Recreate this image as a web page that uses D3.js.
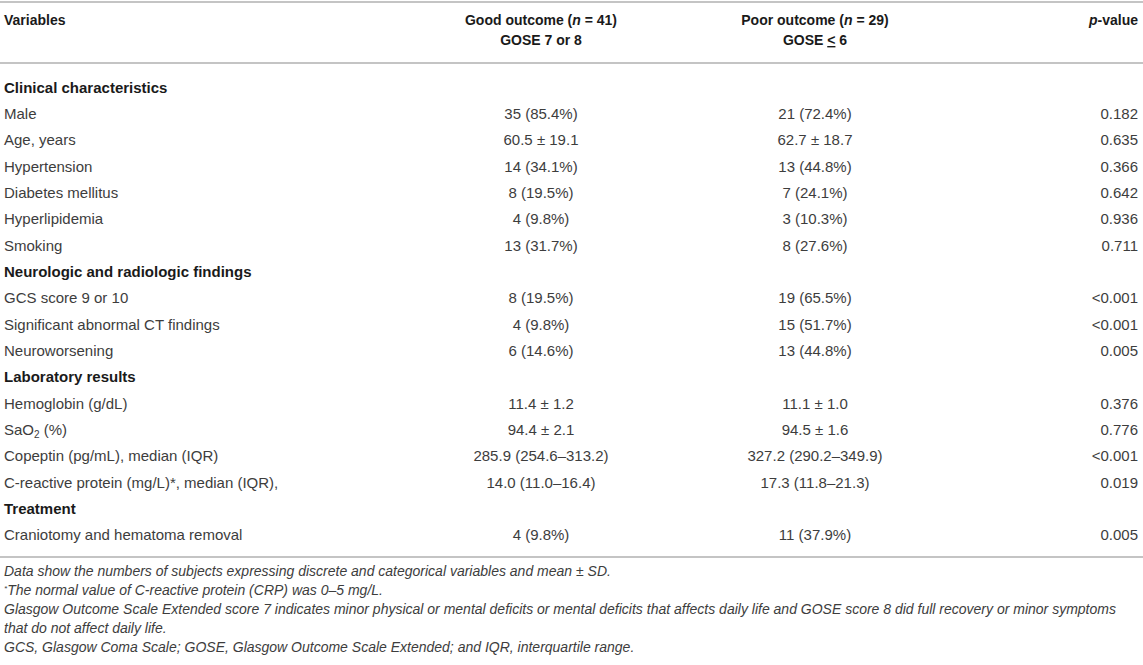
<!DOCTYPE html>
<html>
<head>
<meta charset="utf-8">
<script src="https://cdn.jsdelivr.net/npm/d3@7"></script>
<style>
  body { margin: 0; background: #fff; }
  text { font-family: "Liberation Sans", Arial, Helvetica, sans-serif; }
</style>
</head>
<body>
<div id="chart"></div>
<script>
// table contents
const sections = ["Clinical characteristics", "Neurologic and radiologic findings",
                  "Laboratory results", "Treatment"];
const variables = [
  ["Male", "Age, years", "Hypertension", "Diabetes mellitus", "Hyperlipidemia", "Smoking"],
  ["GCS score 9 or 10", "Significant abnormal CT findings", "Neuroworsening"],
  ["Hemoglobin (g/dL)", "SaO2 (%)", "Copeptin (pg/mL), median (IQR)",
   "C-reactive protein (mg/L)*, median (IQR),"],
  ["Craniotomy and hematoma removal"]
];
const goodValues = [
  ["35 (85.4%)", "60.5 ± 19.1", "14 (34.1%)", "8 (19.5%)", "4 (9.8%)", "13 (31.7%)"],
  ["8 (19.5%)", "4 (9.8%)", "6 (14.6%)"],
  ["11.4 ± 1.2", "94.4 ± 2.1", "285.9 (254.6–313.2)", "14.0 (11.0–16.4)"],
  ["4 (9.8%)"]
];
const poorValues = [
  ["21 (72.4%)", "62.7 ± 18.7", "13 (44.8%)", "7 (24.1%)", "3 (10.3%)", "8 (27.6%)"],
  ["19 (65.5%)", "15 (51.7%)", "13 (44.8%)"],
  ["11.1 ± 1.0", "94.5 ± 1.6", "327.2 (290.2–349.9)", "17.3 (11.8–21.3)"],
  ["11 (37.9%)"]
];
const pValues = [
  ["0.182", "0.635", "0.366", "0.642", "0.936", "0.711"],
  ["<0.001", "<0.001", "0.005"],
  ["0.376", "0.776", "<0.001", "0.019"],
  ["0.005"]
];
const footnotes = [
  "Data show the numbers of subjects expressing discrete and categorical variables and mean ± SD.",
  "*The normal value of C-reactive protein (CRP) was 0–5 mg/L.",
  "Glasgow Outcome Scale Extended score 7 indicates minor physical or mental deficits or mental deficits that affects daily life and GOSE score 8 did full recovery or minor symptoms",
  "that do not affect daily life.",
  "GCS, Glasgow Coma Scale; GOSE, Glasgow Outcome Scale Extended; and IQR, interquartile range."
];

const W = 1143, H = 665;
const textColor = "#3d3d3d", headColor = "#1a1a1a", ruleColor = "#c4c4c4";

// flatten sections + variables into table rows
const rows = [];
sections.forEach((s, i) => {
  rows.push({ type: "section", label: s });
  variables[i].forEach((v, j) => rows.push({
    type: "row", label: v, good: goodValues[i][j], poor: poorValues[i][j], p: pValues[i][j]
  }));
});

const svg = d3.select("#chart").append("svg")
  .attr("width", W).attr("height", H);

const y = d3.scaleBand()
  .domain(d3.range(rows.length))
  .range([74.5, 548.5]);

const col = { label: 4, good: 541, poor: 815, p: 1138 };

// rules
[2, 63, 557].forEach(ry => {
  svg.append("line")
    .attr("x1", 0).attr("x2", W).attr("y1", ry).attr("y2", ry)
    .attr("stroke", ruleColor).attr("stroke-width", 2);
});

// header
const head = svg.append("g")
  .attr("font-size", 14).attr("font-weight", "bold").attr("fill", headColor);

head.append("text").attr("x", col.label).attr("y", 25).text("Variables");

function groupHeader(x, n, second) {
  const t1 = head.append("text").attr("x", x).attr("y", 25).attr("text-anchor", "middle");
  t1.append("tspan").text(n[0] + " (");
  t1.append("tspan").attr("font-style", "italic").text("n");
  t1.append("tspan").text(" = " + n[1] + ")");
  const t2 = head.append("text").attr("x", x).attr("y", 45).attr("text-anchor", "middle");
  second(t2);
}
groupHeader(col.good, ["Good outcome", 41], t => t.text("GOSE 7 or 8"));
groupHeader(col.poor, ["Poor outcome", 29], t => {
  t.append("tspan").text("GOSE ");
  t.append("tspan").attr("text-decoration", "underline").text("<");
  t.append("tspan").text(" 6");
});

const ph = head.append("text").attr("x", col.p).attr("y", 25).attr("text-anchor", "end");
ph.append("tspan").attr("font-style", "italic").text("p");
ph.append("tspan").text("-value");

// body rows
const body = svg.append("g").attr("font-size", 15);

const rowG = body.selectAll("g.row")
  .data(rows)
  .join("g")
    .attr("class", "row")
    .attr("transform", (d, i) => `translate(0, ${y(i) + y.bandwidth() / 2 + 5})`);

rowG.append("text")
  .attr("x", col.label)
  .attr("font-weight", d => d.type === "section" ? "bold" : null)
  .attr("fill", d => d.type === "section" ? headColor : textColor)
  .each(function(d) {
    const t = d3.select(this);
    if (d.label === "SaO2 (%)") {
      t.append("tspan").text("SaO");
      t.append("tspan").attr("font-size", 10).attr("dy", 3).text("2");
      t.append("tspan").attr("dy", -3).text(" (%)");
    } else {
      t.text(d.label);
    }
  });

const dataRows = rowG.filter(d => d.type === "row");
dataRows.append("text").attr("x", col.good).attr("text-anchor", "middle")
  .attr("fill", textColor).text(d => d.good);
dataRows.append("text").attr("x", col.poor).attr("text-anchor", "middle")
  .attr("fill", textColor).text(d => d.poor);
dataRows.append("text").attr("x", col.p).attr("text-anchor", "end")
  .attr("fill", textColor).text(d => d.p);

// footnotes
const fy = d3.scalePoint().domain(d3.range(footnotes.length)).range([576, 652]);
svg.append("g")
  .attr("font-size", 14).attr("font-style", "italic").attr("fill", textColor)
  .selectAll("text")
  .data(footnotes)
  .join("text")
    .attr("x", col.label)
    .attr("y", (d, i) => fy(i))
    .each(function(d) {
      const t = d3.select(this);
      if (d.startsWith("*")) {
        t.append("tspan").attr("font-size", 8).attr("dy", -4).text("*");
        t.append("tspan").attr("dy", 4).text(d.slice(1));
      } else {
        t.text(d);
      }
    });
</script>
</body>
</html>
